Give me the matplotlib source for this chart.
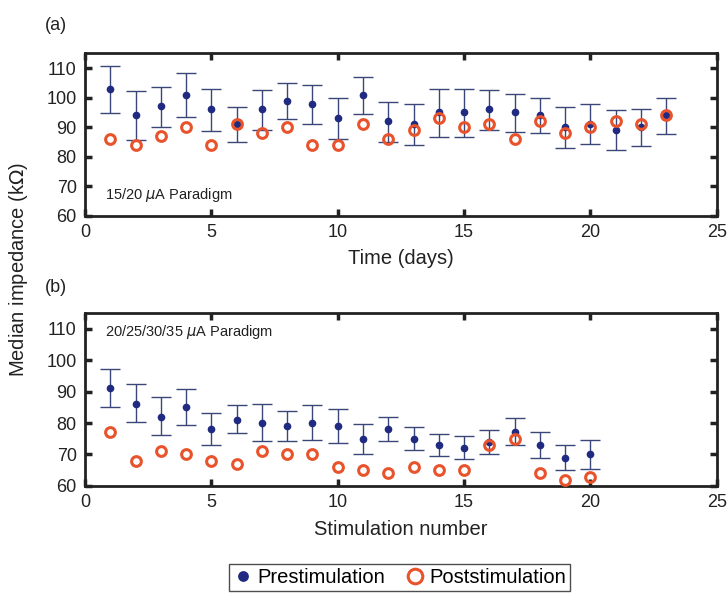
import matplotlib
matplotlib.use('Agg')
import matplotlib.pyplot as plt
import numpy as np

plt.rcParams['font.family'] = ['Liberation Sans', 'DejaVu Sans']
plt.rcParams['mathtext.fontset'] = 'dejavusans'

# (a) 15/20 uA paradigm, per day
jours_a = np.arange(1, 24)
pre_a = [103, 94, 97, 101, 96, 91, 96, 99, 98, 93, 101, 92, 91, 95, 95, 96, 95, 94, 90, 91, 89, 90, 94]
haut_a = [110.6, 102.1, 103.7, 108.2, 103.0, 96.7, 102.7, 104.9, 104.3, 99.7, 107.0, 98.4,
          97.9, 102.9, 102.9, 102.7, 101.2, 99.9, 96.9, 97.7, 95.7, 96.0, 99.9]
bas_a = [94.9, 85.7, 90.0, 93.3, 88.8, 85.1, 89.0, 92.7, 91.2, 86.0, 94.3, 85.1,
         83.9, 86.7, 86.7, 89.1, 88.4, 87.9, 83.0, 84.2, 82.1, 83.6, 87.6]
post_a = [86, 84, 87, 90, 84, 91, 88, 90, 84, 84, 91, 86, 89, 93, 90, 91, 86, 92, 88, 90, 92, 91, 94]

# (b) 20/25/30/35 uA paradigm, per stimulation
stim_b = np.arange(1, 21)
pre_b = [91, 86, 82, 85, 78, 81, 80, 79, 80, 79, 75, 78, 75, 73, 72, 74, 77, 73, 69, 70]
haut_b = [97.2, 92.3, 88.2, 90.7, 83.2, 85.7, 86.0, 83.9, 85.7, 84.5, 79.8, 82.0,
          78.7, 76.6, 75.8, 77.8, 81.6, 77.1, 72.9, 74.6]
bas_b = [85.1, 80.2, 76.1, 79.5, 73.0, 76.7, 74.3, 74.3, 74.7, 73.7, 70.3, 74.3,
         71.5, 69.5, 68.6, 70.3, 72.9, 69.0, 65.1, 65.3]
post_b = [77, 68, 71, 70, 68, 67, 71, 70, 70, 66, 65, 64, 66, 65, 65, 73, 75, 64, 62, 63]

bleu = '#1f2a80'
barre = '#3a4578'
orange = '#e8532b'
encre = '#222222'

fig = plt.figure(figsize=(7.27, 5.97), dpi=100)
ax1 = fig.add_axes([0.117, 0.6387, 0.869, 0.272])
ax2 = fig.add_axes([0.117, 0.186, 0.869, 0.290])


def panneau(ax, x, pre, haut, bas, post, texte):
    pre = np.array(pre)
    err = [pre - np.array(bas), np.array(haut) - pre]
    ax.errorbar(x, pre, yerr=err, fmt='none', ecolor=barre, elinewidth=1.0,
                capsize=7, capthick=1.0, zorder=2)
    ax.plot(x, pre, 'o', color=bleu, markersize=4.5, zorder=3, label='Prestimulation')
    ax.plot(x, post, 'o', mfc='none', mec=orange, mew=2.2, markersize=7,
            zorder=4, label='Poststimulation')
    ax.set_xlim(0, 25)
    ax.set_ylim(60, 115)
    ax.set_xticks([0, 5, 10, 15, 20, 25])
    ax.set_yticks([60, 70, 80, 90, 100, 110])
    ax.tick_params(direction='in', length=5, width=2.5, labelsize=13,
                   top=True, right=True, pad=6, colors=encre)
    for s in ax.spines.values():
        s.set_linewidth(2.0)
        s.set_color(encre)
    ax.text(x=0.032, y=texte[1], s=texte[0], transform=ax.transAxes, fontsize=10.5,
            color=encre, va='center')


panneau(ax1, jours_a, pre_a, haut_a, bas_a, post_a, (r'15/20 $\mu$A Paradigm', 0.13))
panneau(ax2, stim_b, pre_b, haut_b, bas_b, post_b, (r'20/25/30/35 $\mu$A Paradigm', 0.89))

ax1.set_xlabel('Time (days)', fontsize=14.5, labelpad=6, color=encre)
ax2.set_xlabel('Stimulation number', fontsize=14.5, labelpad=6, color=encre)

fig.text(0.062, 0.958, '(a)', fontsize=13, va='center', color=encre)
fig.text(0.062, 0.519, '(b)', fontsize=13, va='center', color=encre)
fig.text(0.026, 0.548, r'Median impedance (k$\Omega$)', rotation=90, fontsize=14.5,
         ha='center', va='center', color=encre)

h, l = ax2.get_legend_handles_labels()
leg = fig.legend(h, l, loc='center', bbox_to_anchor=(0.55, 0.032), ncol=2,
                 fontsize=14.5, frameon=True, fancybox=False, edgecolor=encre,
                 handletextpad=0.2, columnspacing=1.0, handlelength=1.0,
                 borderpad=0.2, markerscale=1.5)
leg.get_frame().set_linewidth(1.0)

fig.savefig('out.png', dpi=100)
